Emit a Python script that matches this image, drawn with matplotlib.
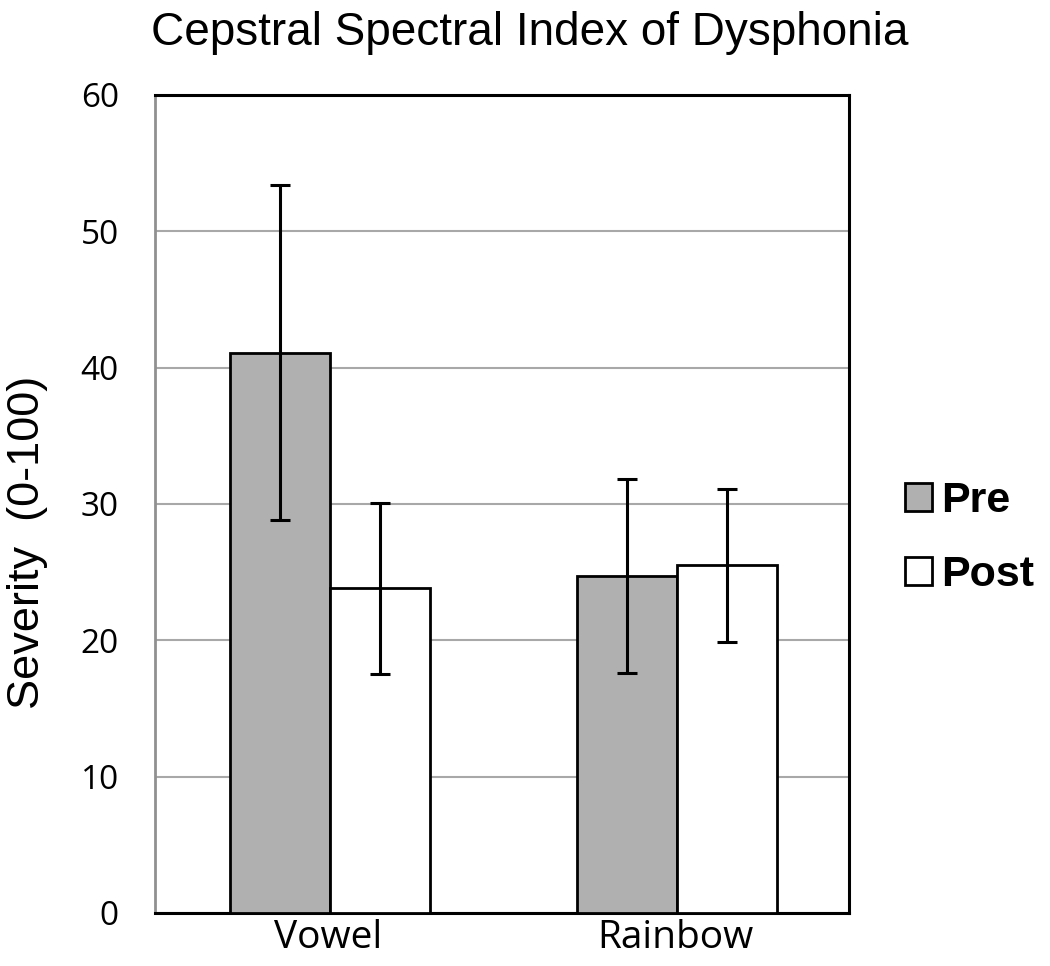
import numpy as np
import matplotlib.pyplot as plt
from matplotlib.patches import Patch

categories = ["Vowel", "Rainbow"]
pre_values = [41.1, 24.7]
post_values = [23.8, 25.5]
pre_err = [12.3, 7.1]
post_err = [6.3, 5.6]
y_ticks = [0, 10, 20, 30, 40, 50, 60]

GRAY = "#b0b0b0"


def plot_chart(path: str = "out.png") -> None:
    fig = plt.figure(figsize=(10.5, 9.66), dpi=100)
    ax = fig.add_axes([0.1476, 0.0549, 0.661, 0.8468])

    x = np.arange(len(categories))
    width = 0.288
    ebar = dict(ecolor="black", elinewidth=2.2, capsize=7, capthick=2.2)
    ax.bar(x - width / 2 + 0.005, pre_values, width, yerr=pre_err, color=GRAY,
           edgecolor="black", linewidth=2, error_kw=ebar, zorder=3)
    ax.bar(x + width / 2 + 0.005, post_values, width, yerr=post_err,
           color="white", edgecolor="black", linewidth=2, error_kw=ebar,
           zorder=3)

    ax.set_xlim(-0.5, 1.5)
    ax.set_ylim(0, 60)
    ax.set_yticks(y_ticks)
    ax.yaxis.grid(True, color="#a8a8a8", linewidth=1.5, zorder=0)
    ax.set_axisbelow(True)
    ax.set_xticks(x)
    ax.set_xticklabels(categories, fontsize=28, family="Open Sans")
    ax.tick_params(axis="both", length=0)
    ax.tick_params(axis="y", labelsize=24, pad=26)
    ax.tick_params(axis="x", pad=4)
    for lab in ax.get_yticklabels():
        lab.set_family("Open Sans")

    ax.spines["left"].set_color("#909090")
    ax.spines["left"].set_linewidth(2)
    for s in ("top", "right", "bottom"):
        ax.spines[s].set_color("black")
        ax.spines[s].set_linewidth(2.2)

    fig.text(28 / 1050, 1 - 542 / 966, "Severity  (0-100)", rotation=90,
             fontsize=32.5, family="Liberation Sans", ha="center", va="center")
    fig.text(530 / 1050, 1 - 33 / 966, "Cepstral Spectral Index of Dysphonia",
             fontsize=33, family="Liberation Sans", ha="center", va="center")

    handles = [Patch(facecolor=GRAY, edgecolor="black", linewidth=2),
               Patch(facecolor="white", edgecolor="black", linewidth=2)]
    fig.legend(handles, ["Pre", "Post"], loc="center left",
               bbox_to_anchor=(905 / 1050, 1 - 538 / 966), frameon=False,
               prop={"family": "Liberation Sans", "weight": "bold", "size": 31},
               handlelength=0.62, handleheight=0.62, handletextpad=0.22,
               labelspacing=0.78, borderpad=0, borderaxespad=0)

    fig.savefig(path, dpi=100)
    plt.close(fig)


def main() -> None:
    plot_chart()


if __name__ == "__main__":
    main()
